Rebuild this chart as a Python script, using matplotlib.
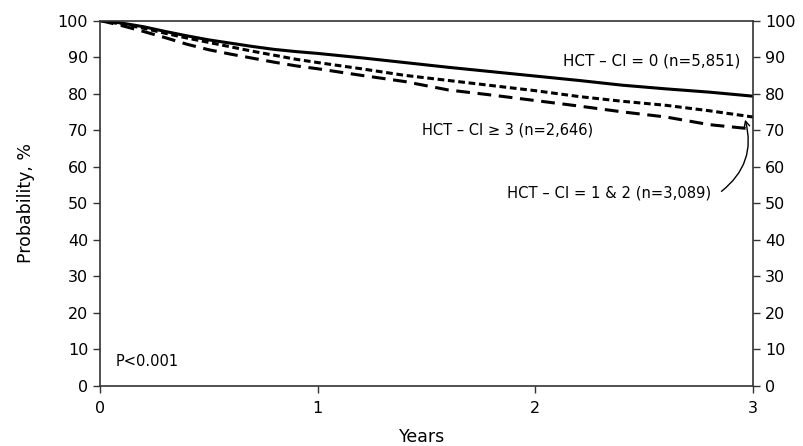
import matplotlib
matplotlib.use("Agg")
import matplotlib.pyplot as plt

years = [0, 0.1, 0.2, 0.3, 0.4, 0.5, 0.6, 0.7, 0.8, 0.9, 1.0, 1.2, 1.4, 1.6, 1.8, 2.0, 2.2, 2.4, 2.6, 2.8, 3.0]
ci_0 = [100, 99.3, 98.3, 97.0, 95.8, 94.7, 93.8, 92.9, 92.1, 91.5, 91.0, 89.8, 88.5, 87.2, 86.0, 84.8, 83.6, 82.3, 81.3, 80.4, 79.3]
ci_12 = [100, 99.0, 97.9, 96.5, 95.2, 94.0, 92.8, 91.6, 90.5, 89.4, 88.5, 86.8, 85.0, 83.6, 82.2, 80.8, 79.2, 77.9, 76.8, 75.3, 73.6]
ci_3 = [100, 98.6, 97.0, 95.3, 93.5, 92.0, 90.8, 89.7, 88.6, 87.6, 86.8, 85.0, 83.3, 81.0, 79.6, 78.1, 76.6, 75.0, 73.6, 71.5, 70.3]

x_ticks = [0, 1, 2, 3]
y_ticks = list(range(0, 101, 10))

plt.rcParams['font.family'] = ['DejaVu Sans']
fig = plt.figure(figsize=(8.04, 4.46), dpi=100)
ax = fig.add_axes([0.1244, 0.1345, 0.8122, 0.8195])

ax.plot(years, ci_0, color='black', lw=2.2, solid_capstyle='butt')
ax.plot(years, ci_12, color='black', lw=2.2, dashes=(2.2, 1.2))
ax.plot(years, ci_3, color='black', lw=2.2, dashes=(4.5, 2.5))

ax.set_xlim(0, 3)
ax.set_ylim(0, 100)
ax.set_xticks(x_ticks)
ax.set_yticks(y_ticks)
ax.tick_params(axis='both', direction='out', length=5, width=1, colors='#333333', labelsize=11.5, labelcolor='black')
ax.tick_params(axis='y', which='both', right=True, labelright=True)
ax.tick_params(axis='x', pad=6)
for s in ax.spines.values():
    s.set_color('#333333')
    s.set_linewidth(1.2)

ax.set_ylabel('Probability, %', fontsize=12.5)
ax.yaxis.set_label_coords(-0.1, 0.5)
ax.set_xlabel('Years', fontsize=12.5)
ax.xaxis.set_label_coords(0.493, -0.115)

ax.text(2.94, 89.0, 'HCT \u2013 CI = 0 (n=5,851)', ha='right', va='center', fontsize=10.9)
ax.text(1.48, 70.0, 'HCT \u2013 CI \u2265 3 (n=2,646)', ha='left', va='center', fontsize=10.5)
ax.text(1.87, 52.8, 'HCT \u2013 CI = 1 & 2 (n=3,089)', ha='left', va='center', fontsize=10.6)
ax.annotate('', xy=(2.96, 73.6), xytext=(2.845, 52.8),
            arrowprops=dict(arrowstyle='->', color='black', lw=1.0,
                            connectionstyle='arc3,rad=0.35'))
ax.text(0.07, 6.8, 'P<0.001', ha='left', va='center', fontsize=10.5)

fig.savefig('out.png', dpi=100)
